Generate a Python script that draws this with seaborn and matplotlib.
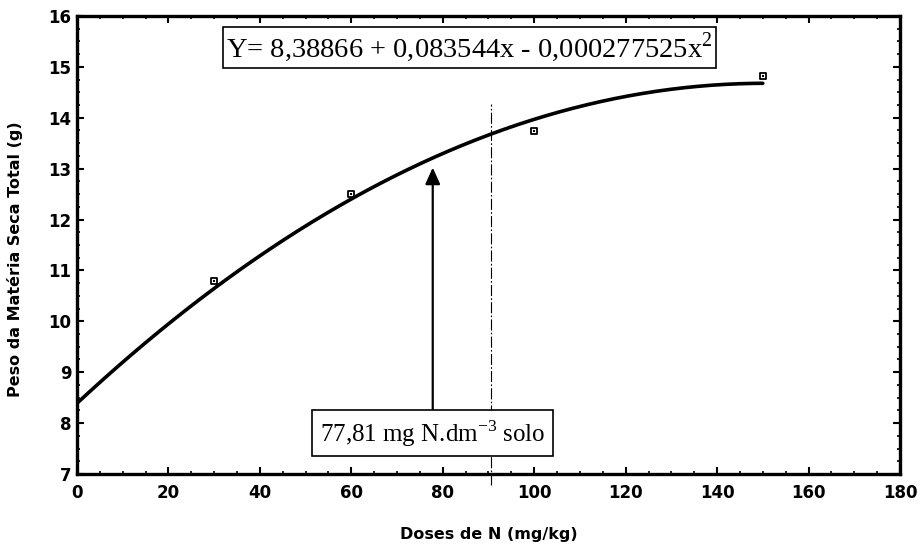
import numpy as np
import pandas as pd
import matplotlib
matplotlib.use("Agg")
import matplotlib.pyplot as plt
import seaborn as sns
from matplotlib.ticker import MultipleLocator

# data
doses = [30, 60, 100, 150]
peso = [10.80, 12.51, 13.73, 14.81]
coefs = [8.38866, 0.083544, -0.000277525]   # fitted quadratic shown in the chart
x_ref = 90.6          # vertical reference line
x_arrow = 77.81       # annotated dose
eq_text = r"Y= 8,38866 + 0,083544x - 0,000277525x$^2$"
ann_text = r"77,81 mg N.dm$^{-3}$ solo"
xticks = [0, 20, 40, 60, 80, 100, 120, 140, 160, 180]
yticks = [7, 8, 9, 10, 11, 12, 13, 14, 15, 16]

sns.set_style("ticks")
plt.rcParams['font.family'] = ['DejaVu Sans']
plt.rcParams['mathtext.fontset'] = 'custom'
plt.rcParams['mathtext.rm'] = 'Liberation Serif'
for k in ['text.color', 'axes.labelcolor', 'xtick.color', 'ytick.color']:
    plt.rcParams[k] = 'black'

fig = plt.figure(figsize=(9.24, 5.48), dpi=100)
ax = fig.add_axes([0.0833, 0.135, 0.8907, 0.836])

xc = np.linspace(0, 150, 200)
yc = coefs[0] + coefs[1] * xc + coefs[2] * xc ** 2
curve = pd.DataFrame({"x": xc, "y": yc})
sns.lineplot(data=curve, x="x", y="y", ax=ax, color="black", linewidth=2.6)

pts = pd.DataFrame({"dose": doses, "peso": peso})
sns.scatterplot(data=pts, x="dose", y="peso", ax=ax, marker="s", s=25,
                facecolor="white", edgecolor="black", linewidth=1.3, zorder=5)
sns.scatterplot(data=pts, x="dose", y="peso", ax=ax, marker="s", s=2,
                color="black", linewidth=0, zorder=6)

ax.plot([x_ref, x_ref], [6.78, 14.26], color="black", linewidth=0.8,
        linestyle=(0, (10, 2, 1.5, 2)), clip_on=False, zorder=3)

ax.annotate("", xy=(x_arrow, 13.02), xytext=(x_arrow, 8.27),
            arrowprops=dict(arrowstyle="-|>,head_width=0.45,head_length=1.0",
                            color="black", linewidth=1.6, shrinkA=0, shrinkB=0))

ax.text(85.8, 15.38, eq_text, ha="center", va="center", fontsize=20.5,
        family="Liberation Serif", color="black",
        bbox=dict(boxstyle="square,pad=0.12", facecolor="white", edgecolor="black", linewidth=1.2))
ax.text(77.8, 7.8, ann_text, ha="center", va="center", fontsize=18,
        family="Liberation Serif", color="black",
        bbox=dict(boxstyle="square,pad=0.3", facecolor="white", edgecolor="black", linewidth=1.2))

ax.set_xlim(0, 180)
ax.set_ylim(7, 16)
ax.set_xticks(xticks)
ax.set_yticks(yticks)
ax.xaxis.set_minor_locator(MultipleLocator(5))
ax.yaxis.set_minor_locator(MultipleLocator(0.25))
ax.tick_params(which="both", direction="in", top=True, right=True, color="black")
ax.tick_params(which="major", length=5, width=1.5, labelsize=12, labelcolor="black")
ax.tick_params(axis="x", which="major", pad=7)
ax.tick_params(axis="y", which="major", pad=4)
ax.tick_params(which="minor", length=2.5, width=1.2)
for lab in ax.get_xticklabels() + ax.get_yticklabels():
    lab.set_fontweight("bold")
for sp in ax.spines.values():
    sp.set_visible(True)
    sp.set_linewidth(2.4)
    sp.set_color("black")

ax.set_xlabel("Doses de N (mg/kg)", fontsize=11.5, fontweight="bold", color="black")
ax.set_ylabel("Peso da Matéria Seca Total (g)", fontsize=11.5, fontweight="bold", color="black")
ax.xaxis.set_label_coords(0.5, -0.115)
ax.yaxis.set_label_coords(-0.066, 0.47)

fig.savefig("out.png", dpi=100)
